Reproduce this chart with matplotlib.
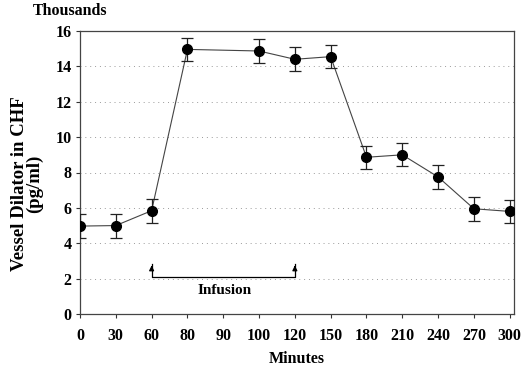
import matplotlib
matplotlib.use("Agg")
import matplotlib.pyplot as plt
import numpy as np

# ---- data ----
minutes = ["0", "30", "60", "80", "90", "100", "120", "150", "180", "210", "240", "270", "300"]
point_minutes = ["0", "30", "60", "80", "100", "120", "150", "180", "210", "240", "270", "300"]
values = [4.97, 5.0, 5.84, 14.96, 14.87, 14.4, 14.55, 8.86, 9.0, 7.75, 5.95, 5.8]
errors = [0.7, 0.68, 0.67, 0.67, 0.66, 0.67, 0.66, 0.65, 0.65, 0.67, 0.68, 0.66]
yticks = [0, 2, 4, 6, 8, 10, 12, 14, 16]
infusion = ["60", "120"]

FONT = "Liberation Serif"
plt.rcParams.update({"font.family": FONT, "font.weight": "bold"})

fig = plt.figure(figsize=(5.25, 3.69), dpi=100)
ax = fig.add_axes([80 / 525, 1 - 314 / 369, 434 / 525, 283 / 369])

xi = [minutes.index(m) for m in point_minutes]

# dotted grid
for v in yticks[1:-1]:
    ax.axhline(v, color="#9a9a9a", lw=0.7, ls=(0, (1, 4)), zorder=1)

ax.errorbar(xi, values, yerr=errors, fmt="o", color="black", ms=7,
            ecolor="#222222", elinewidth=0.9, capsize=4, capthick=0.9, zorder=3)
ax.plot(xi, values, color="#444444", lw=0.8, zorder=2)

# infusion bracket
i0, i1 = minutes.index(infusion[0]), minutes.index(infusion[1])
ax.plot([i0, i0, i1, i1], [2.8, 2.1, 2.1, 2.8], color="black", lw=0.9, zorder=2)
for x in (i0, i1):
    ax.annotate("", xy=(x, 2.9), xytext=(x, 2.5),
                arrowprops=dict(arrowstyle="-|>", color="black", lw=0.9,
                                mutation_scale=7))
ax.text((i0 + i1) / 2 + 0.05, 1.35, "Infusion", ha="center", va="center",
        fontsize=11, fontweight="bold")

ax.set_xlim(0, 12.12)
ax.set_ylim(0, 16)
ax.set_xticks(range(len(minutes)))
ax.set_xticklabels(minutes)
ax.set_yticks(yticks)
ax.tick_params(axis="both", labelsize=11.5, direction="out", length=3,
               width=0.8, color="#333333")
ax.tick_params(axis="x", pad=7)
ax.tick_params(axis="y", pad=3)
for sp in ax.spines.values():
    sp.set_color("#444444")
    sp.set_linewidth(0.9)

ax.set_xlabel("Minutes", fontsize=11.5, fontweight="bold", labelpad=5)
ax.set_ylabel("Vessel Dilator in CHF\n(pg/ml)", fontsize=13.5,
              fontweight="bold", linespacing=0.85)
ax.yaxis.set_label_coords(-0.085, 0.46)
fig.text(33 / 525, 1 - 11 / 369, "Thousands", fontsize=11.5,
         fontweight="bold", va="center", ha="left")

fig.savefig("out.png", dpi=100)
